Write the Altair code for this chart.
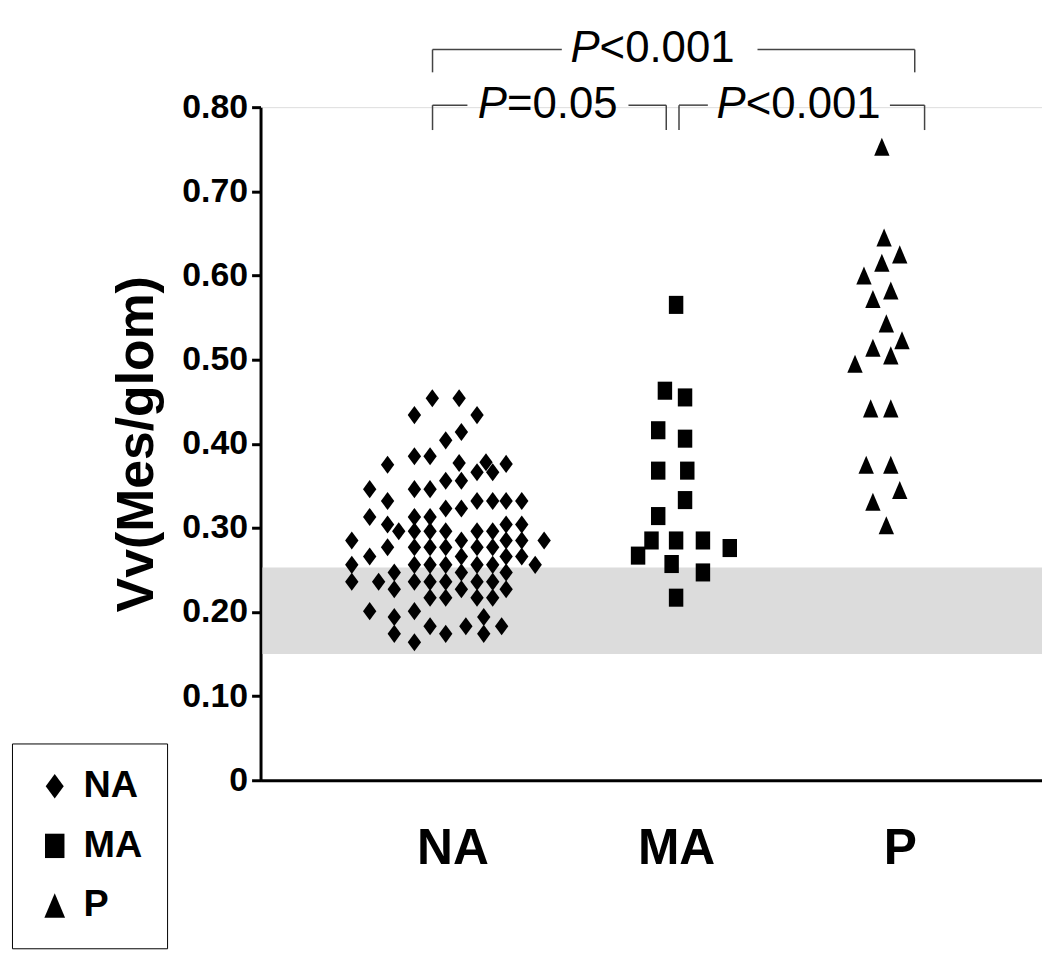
import altair as alt
import pandas as pd

# ---------------- data ----------------
groups = ["NA", "MA", "P"]
group_pos = {"NA": 1, "MA": 2, "P": 3}

na_offset = [-0.09, 0.03, -0.17, 0.11, 0.04, -0.03, -0.17, -0.10, -0.29, 0.03,
             0.15, 0.24, 0.11, 0.18, -0.03, 0.04, -0.37, -0.17, -0.10, -0.29,
             0.11, 0.18, 0.24, 0.31, -0.03, 0.04, -0.37, -0.17, -0.10, -0.29,
             0.24, 0.31,
             -0.24, -0.17, -0.10, -0.03, 0.11, 0.18,
             -0.45, 0.04, 0.24, 0.31, 0.41,
             -0.29, -0.17, -0.10, -0.03, 0.11, 0.18,
             -0.37, 0.04, 0.24, 0.31,
             -0.45, -0.17, -0.10, -0.03, 0.11, 0.18, 0.37,
             -0.26, 0.04, 0.24,
             -0.45, -0.33, -0.17, -0.10, -0.03, 0.11, 0.18,
             -0.26, 0.04, 0.24,
             -0.10, -0.03, 0.11, 0.18,
             -0.37, -0.17,
             -0.26, 0.14,
             -0.10, 0.06, 0.22,
             -0.26, -0.03, 0.14,
             -0.17]
na_value = [0.454, 0.454, 0.434, 0.434, 0.414, 0.404, 0.385, 0.385, 0.375, 0.377,
            0.378, 0.376, 0.366, 0.366, 0.356, 0.356, 0.346, 0.346, 0.346, 0.332,
            0.332, 0.332, 0.332, 0.332, 0.323, 0.323, 0.313, 0.313, 0.313, 0.304,
            0.304, 0.304,
            0.296, 0.296, 0.296, 0.296, 0.296, 0.296,
            0.285, 0.285, 0.285, 0.285, 0.285,
            0.277, 0.277, 0.277, 0.277, 0.277, 0.277,
            0.266, 0.266, 0.266, 0.266,
            0.256, 0.256, 0.256, 0.256, 0.256, 0.256, 0.256,
            0.247, 0.247, 0.247,
            0.236, 0.236, 0.236, 0.236, 0.236, 0.236, 0.236,
            0.227, 0.227, 0.227,
            0.217, 0.217, 0.217, 0.217,
            0.201, 0.201,
            0.194, 0.194,
            0.183, 0.183, 0.183,
            0.174, 0.174, 0.174,
            0.164]

ma_offset = [0.00, -0.05, 0.04, -0.08, 0.04, -0.08, 0.05, 0.04, -0.08, -0.11,
             0.00, 0.12, 0.24, -0.17, -0.02, 0.12, 0.00]
ma_value = [0.565, 0.463, 0.455, 0.416, 0.406, 0.368, 0.368, 0.333, 0.314, 0.285,
            0.285, 0.285, 0.276, 0.267, 0.257, 0.247, 0.217]

p_offset = [-0.08, -0.07, 0.00, -0.08, -0.16, -0.04, -0.12, -0.06, 0.01, -0.12,
            -0.04, -0.20, -0.13, -0.04, -0.15, -0.04, 0.00, -0.12, -0.06]
p_value = [0.753, 0.645, 0.625, 0.615, 0.600, 0.582, 0.572, 0.543, 0.523, 0.514,
           0.505, 0.495, 0.442, 0.442, 0.375, 0.375, 0.345, 0.331, 0.303]

# normal reference band
band_low = [0.150]
band_high = [0.253]

# significance brackets (x in category units, y in Vv units)
hseg_x0 = [0.911, 2.364, 0.911, 1.787, 2.013, 2.956]
hseg_x1 = [1.489, 3.067, 1.067, 1.956, 2.142, 3.111]
hseg_y = [0.8685, 0.8685, 0.8024, 0.8024, 0.8024, 0.8024]
vseg_x = [0.911, 3.067, 0.911, 1.956, 2.013, 3.111]
vseg_y0 = [0.8685, 0.8685, 0.8024, 0.8024, 0.8024, 0.8024]
vseg_y1 = [0.8414, 0.8414, 0.7728, 0.7728, 0.7728, 0.7728]
sig_x = [1.658, 1.244, 2.311]
sig_y = [0.8685, 0.8024, 0.8024]
sig_p = ["P", "P", "P"]
sig_rest = ["<0.001", "=0.05", "<0.001"]

y_ticks = [0, 0.1, 0.2, 0.3, 0.4, 0.5, 0.6, 0.7, 0.8]

# ---------------- build tables ----------------
rows = []
for g, offs, vals in (("NA", na_offset, na_value), ("MA", ma_offset, ma_value), ("P", p_offset, p_value)):
    for o, v in zip(offs, vals):
        rows.append({"group": g, "x": group_pos[g] + o, "value": v})
pts = pd.DataFrame(rows)

hseg = pd.DataFrame({"x0": hseg_x0, "x1": hseg_x1, "y": hseg_y})
vseg = pd.DataFrame({"x": vseg_x, "y0": vseg_y0, "y1": vseg_y1})
sig = pd.DataFrame({"x": sig_x, "y": sig_y, "p": sig_p, "rest": sig_rest})
band = pd.DataFrame({"lo": band_low, "hi": band_high})

FONT = "Liberation Sans"
XDOM = [0.142, 3.636]
xscale = alt.Scale(domain=XDOM, nice=False, zero=False)
yscale = alt.Scale(domain=[0, 0.8], nice=False, zero=True)

diamond = "M0,-1L0.74,0L0,1L-0.74,0Z"
square = "M-0.8,-1L0.8,-1L0.8,1L-0.8,1Z"
triangle = "M0,-1L0.85,1L-0.85,1Z"

band_layer = alt.Chart(band).mark_rect(color="#dcdcdc").encode(
    x=alt.value(2), x2=alt.value("width"),
    y=alt.Y("lo:Q", scale=yscale), y2="hi:Q",
)

points = alt.Chart(pts).mark_point(filled=True, color="black", opacity=1, size=330).encode(
    x=alt.X("x:Q", scale=xscale,
            axis=alt.Axis(values=[1, 2, 3], title=None, grid=False, ticks=False,
                          labelExpr="datum.value == 1 ? 'NA' : datum.value == 2 ? 'MA' : 'P'",
                          labelFont=FONT, labelFontSize=50, labelFontWeight="bold",
                          labelColor="black", labelPadding=44,
                          domainColor="black", domainWidth=3)),
    y=alt.Y("value:Q", scale=yscale,
            axis=alt.Axis(values=y_ticks, title="Vv(Mes/glom)", grid=False,
                          labelExpr="datum.value == 0 ? '0' : format(datum.value, '.2f')",
                          labelFont=FONT, labelFontSize=34, labelFontWeight="bold",
                          labelColor="black", labelPadding=4,
                          tickSize=9, tickWidth=3, tickColor="black",
                          domainColor="black", domainWidth=3,
                          titleFont=FONT, titleFontSize=52, titleFontWeight="bold",
                          titleColor="black", titlePadding=18)),
    shape=alt.Shape("group:N",
                    scale=alt.Scale(domain=groups, range=[diamond, square, triangle]),
                    legend=alt.Legend(title=None, orient="none", legendX=-250, legendY=640,
                                      labelFont=FONT, labelFontSize=38, labelFontWeight="bold",
                                      labelColor="black", symbolSize=600,
                                      symbolFillColor="black", symbolStrokeWidth=0,
                                      padding=24, strokeColor="black",
                                      rowPadding=22, labelOffset=10)),
)

hlines = alt.Chart(hseg).mark_rule(color="#444444", strokeWidth=1.5).encode(
    x=alt.X("x0:Q", scale=xscale), x2="x1:Q", y=alt.Y("y:Q", scale=yscale)
)
vlines = alt.Chart(vseg).mark_rule(color="#444444", strokeWidth=1.5).encode(
    x=alt.X("x:Q", scale=xscale), y=alt.Y("y0:Q", scale=yscale), y2="y1:Q"
)
sig_p_text = alt.Chart(sig).mark_text(font=FONT, fontSize=44, fontStyle="italic",
                                      align="right", baseline="middle", color="black").encode(
    x=alt.X("x:Q", scale=xscale), y=alt.Y("y:Q", scale=yscale), text="p:N"
)
sig_rest_text = alt.Chart(sig).mark_text(font=FONT, fontSize=44,
                                         align="left", baseline="middle", color="black").encode(
    x=alt.X("x:Q", scale=xscale), y=alt.Y("y:Q", scale=yscale), text="rest:N"
)

chart = alt.layer(band_layer, points, hlines, vlines, sig_p_text, sig_rest_text).properties(
    width=786, height=677,
    autosize=alt.AutoSizeParams(type="none"),
    padding={"left": 254, "top": 97, "right": 0, "bottom": 170},
).configure_view(stroke=None).configure(background="white")

chart.save("out.html", embed_options={"renderer": "svg", "actions": False})
